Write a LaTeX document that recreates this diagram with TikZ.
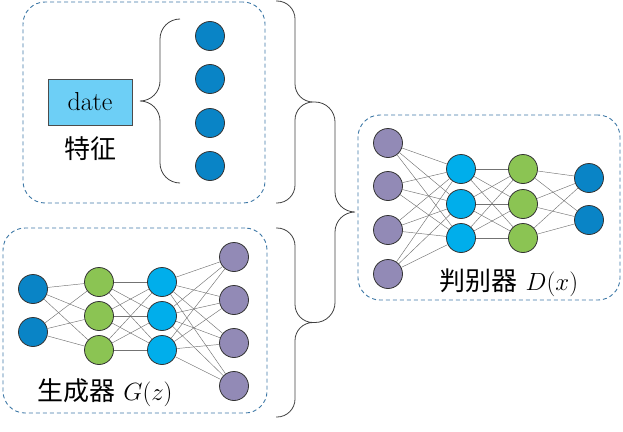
\documentclass[tikz,border=0pt]{standalone}
\usepackage{fontspec}
\usepackage{tikz}
\usetikzlibrary{positioning}
\newfontfamily\cjk{Noto Sans CJK SC}
\definecolor{nblue}{RGB}{9,132,198}
\definecolor{ngreen}{RGB}{139,196,83}
\definecolor{ncyan}{RGB}{0,174,235}
\definecolor{npurple}{RGB}{146,138,182}
\definecolor{datefill}{RGB}{109,207,246}
\definecolor{boxline}{RGB}{62,120,166}
\tikzset{
  neuron/.style={
    circle,
    draw=black!80,
    line width=0.8pt,
    minimum size=29pt,
    inner sep=0pt
  },
  link/.style={draw=black!55, line width=0.45pt},
  dashbox/.style={
    draw=boxline,
    dash pattern=on 4pt off 3pt,
    line width=0.9pt,
    rounded corners=22pt
  },
  curly/.style={draw=black!75, line width=0.8pt}
}

\begin{document}
\begin{tikzpicture}[x=1pt, y=-1pt, font=\fontsize{26}{30}\selectfont]
        \useasboundingbox (0,0) rectangle (623,431);
        % boxes
        \node [dashbox, minimum width=242pt, minimum height=201pt] (TopBox) at (144,102.5) {};
        \node [dashbox, minimum width=264pt, minimum height=185pt] (GBox) at (135,320.5) {};
        \node [dashbox, minimum width=262pt, minimum height=185pt] (DBox) at (489,207.5) {};
        % features
        \node [draw=black!70, line width=0.8pt, fill=datefill, minimum width=84pt, minimum height=46pt] (Date) at (90,102) {date};
        \node [on grid, below=47pt of Date] (FeatLabel) {\cjk 特征};
        \foreach \y [count=\i] in {36,79,123,166}
          \node [neuron, fill=nblue] (Feat\i) at (210,\y) {};
        % generator
        \foreach \y [count=\i] in {289,332}
          \node [neuron, fill=nblue] (GIn\i) at (33,\y) {};
        \foreach \y [count=\i] in {282,316,350} {
          \node [neuron, fill=ngreen] (GHa\i) at (99,\y) {};
          \node [neuron, fill=ncyan] (GHb\i) at (162,\y) {};
        }
        \foreach \y [count=\i] in {257,300,343,386}
          \node [neuron, fill=npurple] (GOut\i) at (234,\y) {};
        \node (GLabel) at (105,393) {{\cjk 生成器} $G(z)$};
        % discriminator
        \foreach \y [count=\i] in {143,186,230,274}
          \node [neuron, fill=npurple] (DIn\i) at (388,\y) {};
        \foreach \y [count=\i] in {169,204,238} {
          \node [neuron, fill=ncyan] (DHa\i) at (461,\y) {};
          \node [neuron, fill=ngreen] (DHb\i) at (523,\y) {};
        }
        \foreach \y [count=\i] in {178,220}
          \node [neuron, fill=nblue] (DOut\i) at (589,\y) {};
        \node (DLabel) at (509,283) {{\cjk 判别器} $D(x)$};
        % links
        \foreach \i in {1,2} \foreach \j in {1,2,3} \draw [link] (GIn\i) -- (GHa\j);
        \foreach \i in {1,2,3} \foreach \j in {1,2,3} \draw [link] (GHa\i) -- (GHb\j);
        \foreach \i in {1,2,3} \foreach \j in {1,...,4} \draw [link] (GHb\i) -- (GOut\j);
        \foreach \i in {1,...,4} \foreach \j in {1,2,3} \draw [link] (DIn\i) -- (DHa\j);
        \foreach \i in {1,2,3} \foreach \j in {1,2,3} \draw [link] (DHa\i) -- (DHb\j);
        \foreach \i in {1,2,3} \foreach \j in {1,2} \draw [link] (DHb\i) -- (DOut\j);
        % braces
        \coordinate (FeatTip) at (140,101);
        \coordinate (TopTip) at (313,102);
        \coordinate (GTip) at (313,322.5);
        \coordinate (DTip) at (355,212);
        \draw [curly, rounded corners=20pt] (180,19) -| (160,101) -- (FeatTip) (FeatTip) -- (160,101) |- (180,183);
        \draw [curly, rounded corners=18pt] (276,1) -| (295,102) -- (TopTip) (TopTip) -- (295,102) |- (276,203);
        \draw [curly, rounded corners=18pt] (276,228) -| (295,322.5) -- (GTip) (GTip) -- (295,322.5) |- (276,417);
        \draw [curly, rounded corners=20pt] (TopTip) -| (335,212) -- (DTip) (DTip) -- (335,212) |- (GTip);
      \end{tikzpicture}
\end{document}
